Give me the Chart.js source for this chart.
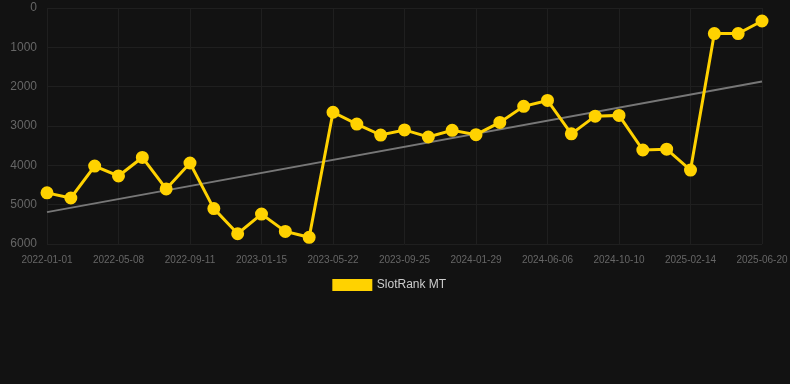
<!DOCTYPE html>
<html>
<head>
<meta charset="utf-8">
<script src="https://cdn.jsdelivr.net/npm/chart.js@4.4.1/dist/chart.umd.min.js"></script>
<style>
  html, body { margin: 0; padding: 0; background: #121212; }
  #wrap { width: 790px; height: 384px; position: relative; }
</style>
</head>
<body>
<div id="wrap"><canvas id="rankChart"></canvas></div>
<script>
// =========================
//  DATA
// =========================
const dates = [
  "2022-01-01", "2022-02-12", "2022-03-26", "2022-05-08", "2022-06-19", "2022-07-31",
  "2022-09-11", "2022-10-23", "2022-12-04", "2023-01-15", "2023-02-26", "2023-04-09",
  "2023-05-22", "2023-07-03", "2023-08-14", "2023-09-25", "2023-11-06", "2023-12-18",
  "2024-01-29", "2024-03-11", "2024-04-23", "2024-06-06", "2024-07-18", "2024-08-29",
  "2024-10-10", "2024-11-21", "2025-01-02", "2025-02-14", "2025-03-28", "2025-05-09",
  "2025-06-20"
];

const rankMT = [
  4700, 4830, 4020, 4270, 3800, 4600, 3940, 5100, 5740, 5240, 5680, 5830,
  2650, 2950, 3230, 3100, 3280, 3110, 3220, 2910, 2500, 2350, 3200, 2750,
  2730, 3610, 3590, 4120, 650, 650, 330
];

// trend line ends
const trendEnds = [5190, 1870];

const yTicks = [0, 1000, 2000, 3000, 4000, 5000, 6000];

// =========================
//  CHART
// =========================
Chart.defaults.font.family = "'Liberation Sans', Arial, sans-serif";

new Chart(document.getElementById("rankChart"), {
  type: "line",
  data: {
    labels: dates,
    datasets: [
      {
        label: "SlotRank MT",
        data: rankMT,
        borderColor: "#FFD200",
        backgroundColor: "#FFD200",
        borderWidth: 3,
        pointRadius: 5,
        pointHoverRadius: 5,
        tension: 0
      },
      {
        label: "trend",
        data: [
          { x: dates[0], y: trendEnds[0] },
          { x: dates[dates.length - 1], y: trendEnds[1] }
        ],
        borderColor: "#777777",
        borderWidth: 2,
        pointRadius: 0,
        tension: 0
      }
    ]
  },
  options: {
    responsive: true,
    maintainAspectRatio: false,
    animation: false,
    layout: { padding: { left: 0, right: 10, top: -2, bottom: 83 } },
    plugins: {
      tooltip: { enabled: false },
      legend: {
        position: "bottom",
        labels: {
          color: "#cccccc",
          font: { size: 12 },
          boxWidth: 37,
          boxHeight: 9,
          padding: 3,
          filter: item => item.text !== "trend"
        }
      }
    },
    scales: {
      x: {
        grid: { color: "#1f1f1f", drawTicks: false },
        border: { display: false },
        ticks: {
          color: "#666666",
          font: { size: 10 },
          maxRotation: 0,
          autoSkip: true,
          maxTicksLimit: 11,
          padding: 10
        },
        afterFit: axis => {
          axis.paddingRight = 28;
        }
      },
      y: {
        reverse: true,
        min: 0,
        max: 6000,
        afterBuildTicks: axis => {
          axis.ticks = yTicks.map(v => ({ value: v }));
        },
        afterFit: axis => {
          axis.width = 47;
          axis.paddingTop = 4;
        },
        grid: { color: "#1f1f1f", drawTicks: false },
        border: { display: false },
        ticks: {
          color: "#666666",
          font: { size: 12 },
          padding: 10,
          callback: v => String(v)
        }
      }
    }
  }
});
</script>
</body>
</html>
